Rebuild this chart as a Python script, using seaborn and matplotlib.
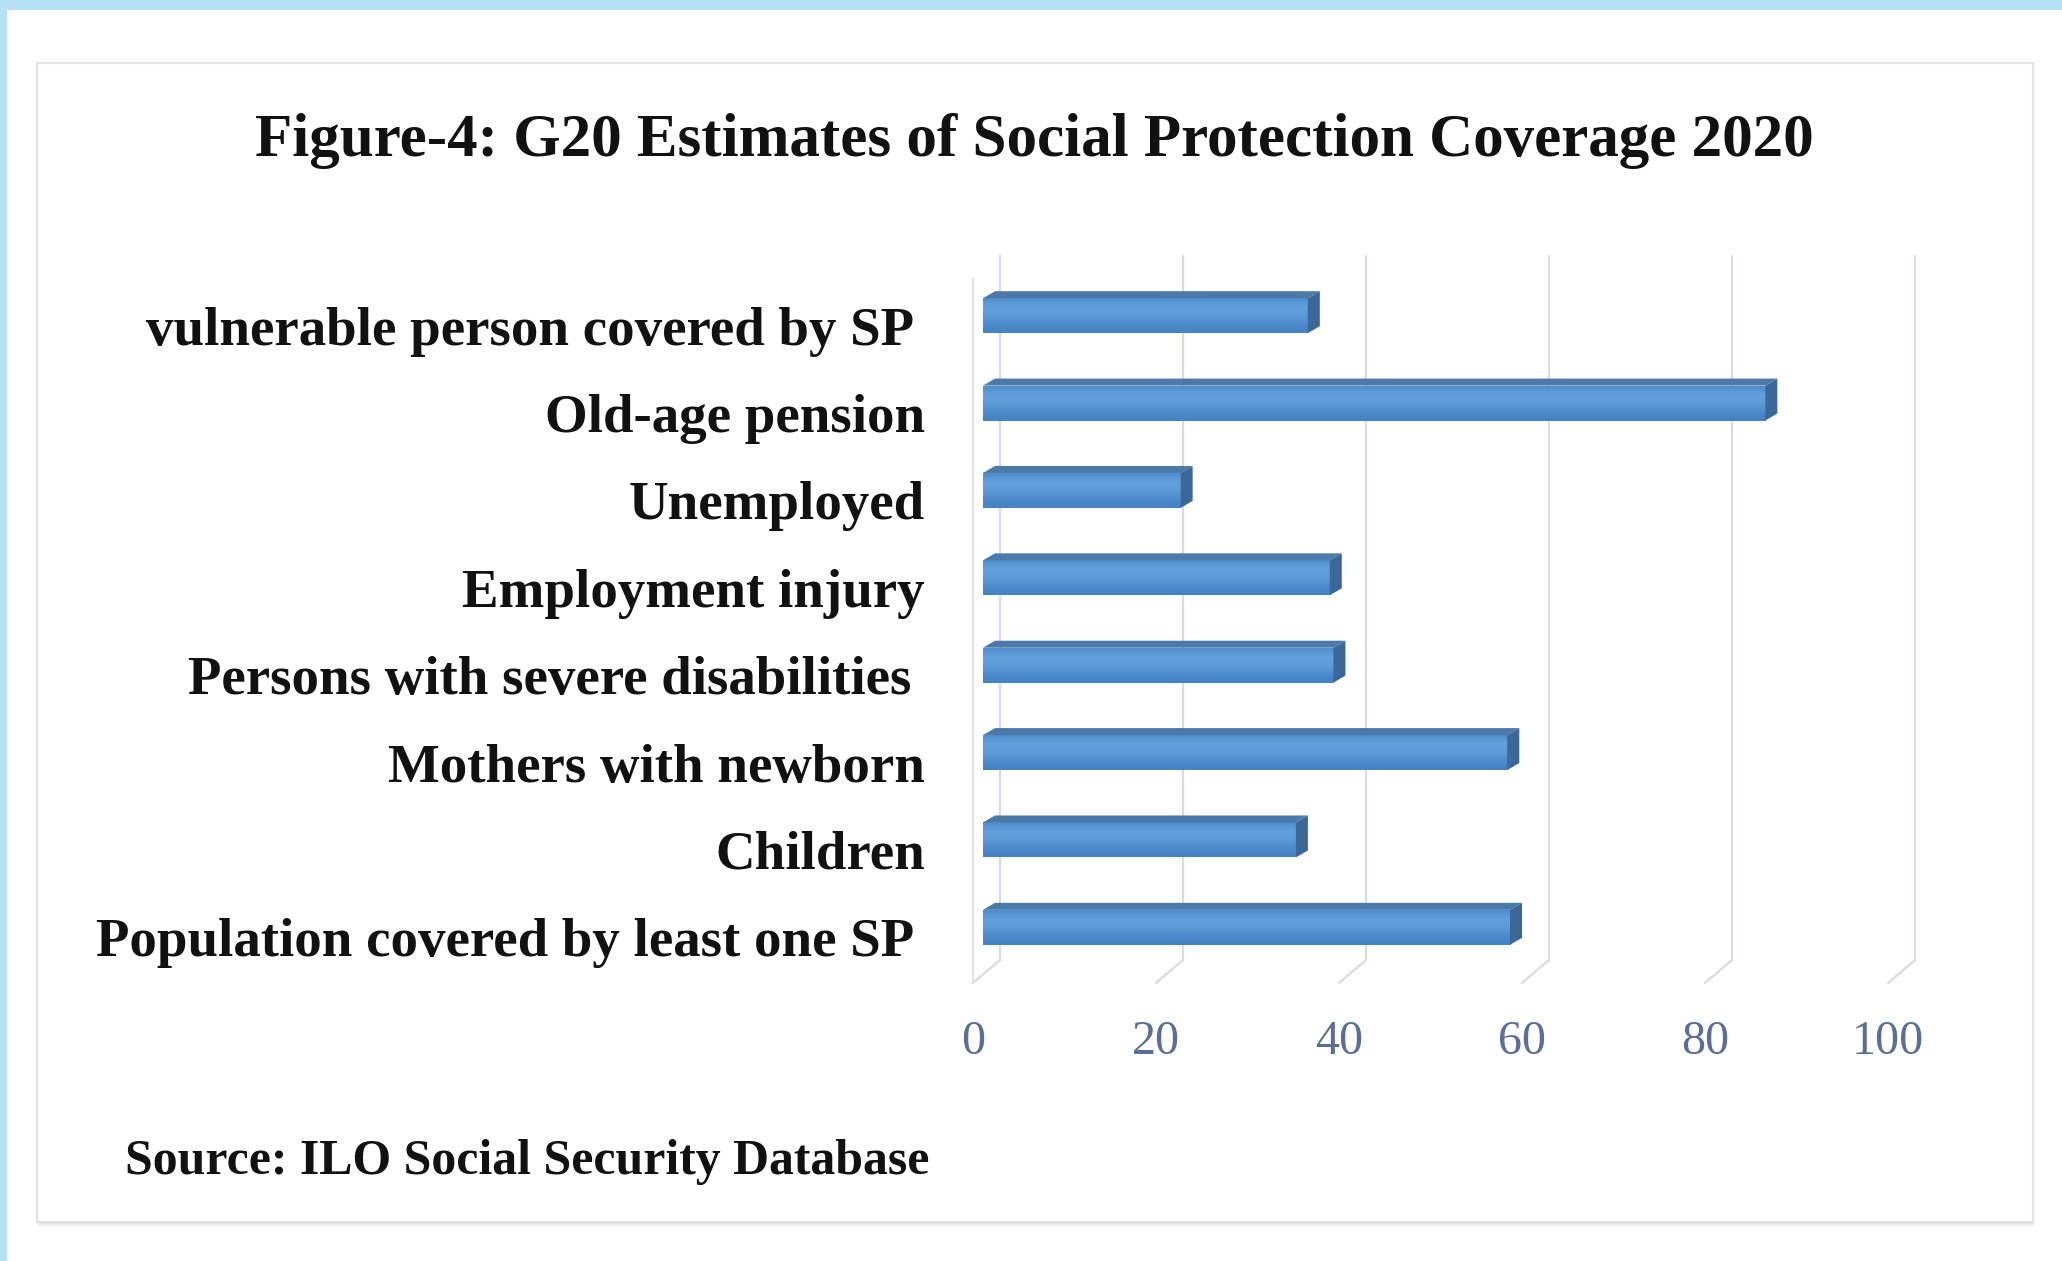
import numpy as np
import pandas as pd
import seaborn as sns
import matplotlib
matplotlib.use("Agg")
import matplotlib.pyplot as plt
import matplotlib.transforms as mtransforms
from matplotlib.patches import Rectangle, Polygon
from matplotlib.lines import Line2D
from matplotlib.colors import LinearSegmentedColormap

# ---------------- data ----------------
categories = [
    "vulnerable person covered by SP ",
    "Old-age pension",
    "Unemployed",
    "Employment injury",
    "Persons with severe disabilities ",
    "Mothers with newborn",
    "Children",
    "Population covered by least one SP ",
]
values = [35.5, 85.5, 21.6, 37.9, 38.3, 57.3, 34.2, 57.6]
x_ticks = [0, 20, 40, 60, 80, 100]
title_text = "Figure-4: G20 Estimates of Social Protection Coverage 2020"
source_text = "Source: ILO Social Security Database"

# ---------------- setup ----------------
W, H, DPI = 2062, 1261, 100
sns.set_theme(style="white")
plt.rcParams["font.family"] = ["Liberation Serif", "DejaVu Serif"]
fig = plt.figure(figsize=(W / DPI, H / DPI), dpi=DPI)
fig.patch.set_facecolor("white")
ident = mtransforms.IdentityTransform()


def fx(px):
    return px / W


def fy(py):
    return 1 - py / H


def dy(py):  # top-down pixel -> display y
    return H - py


# page decorations
fig.add_artist(Rectangle((0, fy(10)), 1, 10 / H, transform=fig.transFigure,
                         color="#b5e2f2", lw=0, zorder=-3))
fig.add_artist(Rectangle((0, 0), 7 / W, 1, transform=fig.transFigure,
                         color="#b5e2f2", lw=0, zorder=-3))
fig.add_artist(Rectangle((fx(37), fy(1222)), (2033 - 37) / W, (1222 - 63) / H,
                         transform=fig.transFigure, fill=False,
                         edgecolor="#e4e4e4", lw=1.5, zorder=-3))
for i, c in enumerate(["#dcdcdc", "#e6e6e6", "#efefef", "#f6f6f6"]):
    fig.add_artist(Line2D([38, 2033], [dy(1223 + i)] * 2, transform=ident,
                          color=c, lw=1.2, zorder=-3))

# ---------------- axes & bars ----------------
ax_left, ax_right, ax_top, ax_bot = 983, 1898, 272, 971
ax = fig.add_axes([fx(ax_left), fy(ax_bot), (ax_right - ax_left) / W,
                   (ax_bot - ax_top) / H])
ax.set_facecolor("none")
df = pd.DataFrame({"category": categories, "value": values})
sns.barplot(data=df, x="value", y="category", orient="h", color="#5b9bd5",
            width=0.40, saturation=1, ax=ax, zorder=3, linewidth=0)
ax.set_xlim(0, 100)
ax.set_ylim(len(categories) - 0.5, -0.5)
for s in ax.spines.values():
    s.set_visible(False)
ax.set_xlabel("")
ax.set_ylabel("")
ax.tick_params(length=0)

# 3D-look walls and grid (back plane offset right, floor to front)
back_off, front_off = 17, -10
y_back_top, y_back_bot, y_front_bot = 256, 960, 983
grid_c = "#d8dbe4"
for t in x_ticks:
    xp = ax.transData.transform((t, 0))[0]
    fig.add_artist(Line2D([xp + back_off] * 2, [dy(y_back_top), dy(y_back_bot)],
                          transform=ident, color=grid_c, lw=1.6, zorder=-2))
    fig.add_artist(Line2D([xp + back_off, xp + front_off],
                          [dy(y_back_bot), dy(y_front_bot)],
                          transform=ident, color=grid_c, lw=1.6, zorder=-2))
x0p = ax.transData.transform((0, 0))[0]
fig.add_artist(Line2D([x0p + front_off] * 2, [dy(279), dy(y_front_bot)],
                      transform=ident, color="#e2e4ea", lw=1.6, zorder=-2))

# bar faces
grad = LinearSegmentedColormap.from_list(
    "g", ["#4f8dcd", "#62a0dc", "#5d9bd8", "#4c8acb", "#4582c4"])
gimg = np.linspace(0, 1, 64).reshape(-1, 1)
ddx, ddy = 12, 7
for p in list(ax.patches):
    x0, y0 = p.get_x(), p.get_y()
    w, h = p.get_width(), p.get_height()
    im = ax.imshow(gimg, extent=(x0, x0 + w, y0 + h, y0), aspect="auto",
                   cmap=grad, zorder=4, interpolation="bilinear")
    im.set_clip_path(p)
    (xl, yb), (xr, yt) = ax.transData.transform([(x0, y0 + h), (x0 + w, y0)])
    top = Polygon([(xl, yt), (xr, yt), (xr + ddx, yt + ddy), (xl + ddx, yt + ddy)],
                  closed=True, transform=ident, facecolor="#4b79aa",
                  edgecolor="none", zorder=5)
    side = Polygon([(xr, yt), (xr + ddx, yt + ddy), (xr + ddx, yb + ddy), (xr, yb)],
                   closed=True, transform=ident, facecolor="#3c6899",
                   edgecolor="none", zorder=5)
    fig.add_artist(top)
    fig.add_artist(side)
ax.set_xlim(0, 100)
ax.set_ylim(len(categories) - 0.5, -0.5)

# ---------------- text ----------------
renderer = fig.canvas.get_renderer()


def fit(text_obj, target_px):
    w = text_obj.get_window_extent(renderer).width
    text_obj.set_fontsize(text_obj.get_fontsize() * target_px / w)


title = fig.text(fx(1034), fy(141), title_text, ha="center", va="center",
                 fontsize=40, fontweight="bold", color="#111111")
fit(title, 1556)
src = fig.text(fx(125), fy(1162), source_text, ha="left", va="center",
               fontsize=30, fontweight="bold", color="#111111")
fit(src, 802)

# category labels
probe = fig.text(0, 0, "Old-age pension", fontsize=30, fontweight="bold")
fit(probe, 379)
lab_fs = probe.get_fontsize()
probe.remove()
ax.set_yticks(range(len(categories)))
ax.set_yticklabels(categories, fontsize=lab_fs, fontweight="bold",
                   color="#111111")
ax.tick_params(axis="y", pad=(ax_left - 925) * 72 / DPI)
off_y = mtransforms.ScaledTranslation(0, -10 / DPI, fig.dpi_scale_trans)
for lab in ax.get_yticklabels():
    lab.set_transform(lab.get_transform() + off_y)

# x tick labels
probe = fig.text(0, 0, "100", fontsize=30)
fit(probe, 72)
tick_fs = probe.get_fontsize()
probe.remove()
ax.set_xticks(x_ticks)
ax.set_xticklabels([str(t) for t in x_ticks], fontsize=tick_fs, color="#5a6e98")
ax.tick_params(axis="x", pad=(1020 - ax_bot) * 72 / DPI)
off_x = mtransforms.ScaledTranslation(front_off / DPI, 0, fig.dpi_scale_trans)
for lab in ax.get_xticklabels():
    lab.set_transform(lab.get_transform() + off_x)

fig.savefig("out.png", dpi=DPI)
